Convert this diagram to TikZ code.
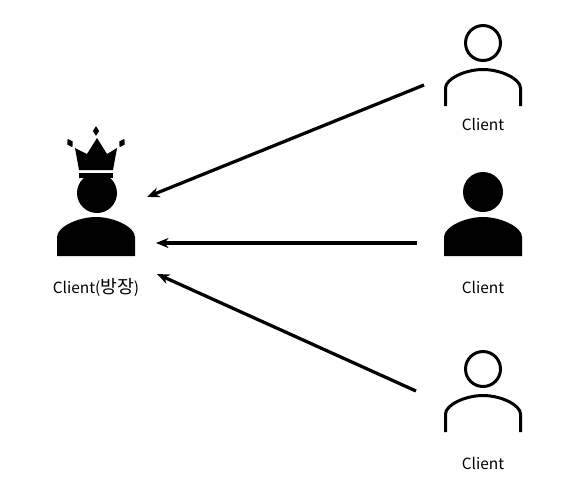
\documentclass[tikz,border=0pt]{standalone}
\usepackage{fontspec}
\setmainfont{Noto Sans CJK KR}
\usetikzlibrary{arrows.meta,bending,positioning,shapes}

\tikzset{
  headopen/.style={circle,draw=black,line width=0.06cm,fill=white,minimum size=0.7cm,inner sep=0pt},
  headfull/.style={circle,fill=black,minimum size=0.8cm,inner sep=0pt},
  label/.style={font=\fontsize{8.8pt}{10pt}\selectfont,inner sep=0pt},
  link/.style={line width=0.065cm,-{Stealth[length=0.25cm,width=0.2cm]}},
  gem/.style={diamond,fill=black,minimum width=0.13cm,minimum height=0.2cm,inner sep=0pt},
  pics/bodyopen/.style={code={
    \draw[line width=0.06cm] (-37.5,0) -- (-37.5,-18) .. controls (-37.5,-27) and (-18,-36.5) .. (0,-36.5)
      .. controls (18,-36.5) and (37.5,-27) .. (37.5,-18) -- (37.5,0);}},
  pics/bodyfull/.style={code={
    \fill (-39,0) -- (-39,-19) .. controls (-39,-29) and (-18,-39) .. (0,-39)
      .. controls (18,-39) and (39,-29) .. (39,-19) -- (39,0) -- cycle;}}
}

\begin{document}
\begin{tikzpicture}[x=0.02cm,y=-0.02cm]
  \useasboundingbox (0,0) rectangle (580,484);

  \node[headfull] (kinghead) at (97,193) {};
  \pic at (96,256) {bodyfull};
  \fill (75,148) -- (87,154) -- (97,138) -- (107,154) -- (117,148) -- (113,170) -- (79,170) -- cycle;
  \fill (79,172.5) rectangle (113,178);
  \node[gem] (gemtop) at (96,131) {};
  \node[gem,rotate=30] (gemleft) at (70,143) {};
  \node[gem,rotate=-30] (gemright) at (122,143) {};
  \node[label] (kinglabel) at (96,287) {Client({\fontsize{10.4pt}{10pt}\selectfont 방장})};

  \node[headopen] (headone) at (483,43) {};
  \pic at (483,106) {bodyopen};
  \node[label] (labelone) at (483,124) {Client};

  \node[headfull] (headtwo) at (483,192) {};
  \pic at (483,256) {bodyfull};
  \node[label] (labeltwo) at (483,287) {Client};

  \node[headopen] (headthree) at (483,369) {};
  \pic at (483,432) {bodyopen};
  \node[label] (labelthree) at (483,463) {Client};

  \coordinate (fromone) at (424,85);
  \coordinate (fromtwo) at (417,243);
  \coordinate (fromthree) at (416,391);
  \coordinate (toone) at (147,197);
  \coordinate (totwo) at (156,243);
  \coordinate (tothree) at (157,274);

  \draw[link] (fromone) -- (toone);
  \draw[link] (fromtwo) -- (totwo);
  \draw[link] (fromthree) -- (tothree);
\end{tikzpicture}
\end{document}
